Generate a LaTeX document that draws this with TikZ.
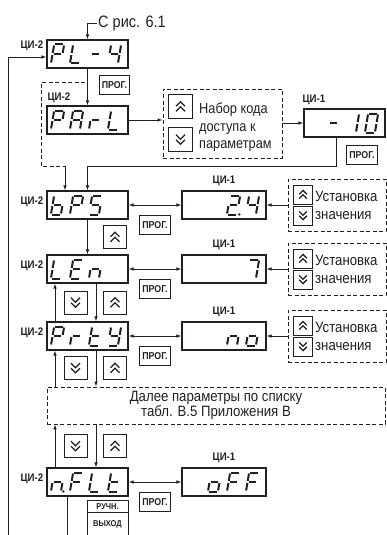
\documentclass[tikz,border=0pt]{standalone}
\usepackage{fontspec}
\setmainfont{Liberation Sans}[FakeStretch=0.88]
\usepackage{xstring}
\usetikzlibrary{arrows.meta,positioning,calc}
\definecolor{ink}{RGB}{35,31,32}
% segments of one display digit
\def\sga{(1.3,-9.5) -- (8.7,-9.5)}
\def\sgb{(10,-8.5) -- (10,-1)}
\def\sgc{(10,1) -- (10,8.5)}
\def\sgd{(1.3,9.5) -- (8.7,9.5)}
\def\sge{(0,1) -- (0,8.5)}
\def\sgf{(0,-8.5) -- (0,-1)}
\def\sgg{(1.3,0) -- (8.7,0)}
\tikzset{
  >={Latex[length=5pt,width=3.6pt]},
  disp/.style={draw=ink,line width=1.1pt,minimum width=#1,minimum height=28pt,inner sep=0pt},
  disp/.default=81pt,
  lbl/.style={font=\fontsize{11}{12}\selectfont\bfseries,text=ink,inner sep=1pt},
  prog/.style={draw=ink,line width=0.9pt,font=\fontsize{10}{11}\selectfont\bfseries,text=ink,
    inner sep=2.5pt,minimum height=19pt},
  btn/.style={draw=ink,line width=0.9pt,minimum size=#1,inner sep=0pt},
  btn/.default=23pt,
  dbox/.style={draw=ink,line width=0.9pt,dash pattern=on 4pt off 2.5pt},
  txt/.style={font=\fontsize{15}{15}\selectfont,text=ink,align=left,inner sep=0pt},
  link/.style={draw=ink,line width=0.9pt},
  seg/.style={draw=ink,line width=2pt},
  % display digits and key pictograms
  pics/glyph/.style={code={
    \begin{scope}[xslant=0.17]
    \foreach \s in {a,b,c,d,e,f,g}{\IfSubStr{#1}{\s}{\draw[seg] \csname sg\s\endcsname;}{}}
    \IfSubStr{#1}{p}{\fill[ink] (12.4,9.5) circle (1.3pt);}{}
    \end{scope}
  }},
  pics/upkeys/.style={code={
    \draw[ink,line width=1.3pt] (-4.5,-0.3) -- (0,-4.8) -- (4.5,-0.3) (-4.5,4.8) -- (0,0.3) -- (4.5,4.8);
  }},
  pics/downkeys/.style={code={
    \draw[ink,line width=1.3pt] (-4.5,-4.8) -- (0,-0.3) -- (4.5,-4.8) (-4.5,0.3) -- (0,4.8) -- (4.5,0.3);
  }},
}
\newcommand{\showdisp}[2]{\foreach \i/\g in {#2} \pic at ($(#1.east)+({19*\i-95},0)$) {glyph=\g};}

\begin{document}
\begin{tikzpicture}[x=1pt,y=-1pt]
  \useasboundingbox (0,0) rectangle (387,535);
  \node[txt,font=\fontsize{16.5}{18}\selectfont,anchor=west,inner sep=1pt] (src) at (97,23) {С рис. 6.1};
  % parameter displays
  \foreach \n/\y in {pl/54,parl/120,bps/205,len/269,prty/336,nflt/482}
    \node[disp] (\n) at (87.5,\y) {};
  \foreach \n in {bps,len,prty,nflt}
    \node[lbl,anchor=east] (l\n) at ([shift={(-2,-3)}]\n.west) {ЦИ-2};
  \node[lbl,anchor=east] (lpl) at ([shift={(-2,-8)}]pl.west) {ЦИ-2};
  \node[lbl,anchor=south west] (lparl) at ([shift={(0,-2)}]parl.north west) {ЦИ-2};
  \showdisp{pl}{1/abefg,2/def,3/g,4/bcfg}
  \showdisp{parl}{1/abefg,2/abcefg,3/eg,4/def}
  \showdisp{bps}{1/cdefg,2/abefg,3/acdfg}
  \showdisp{len}{1/def,2/adefg,3/ceg}
  \showdisp{prty}{1/abefg,2/eg,3/defg,4/bcdfg}
  \showdisp{nflt}{1/cegp,2/aefg,3/def,4/defg}

  \coordinate (fb) at (8,535);
  \draw[link,->] (fb) |- ([shift={(0,3)}]pl.west);
  \draw[link,->] (src.west) -| (pl.north);
  \draw[link,->] (pl.south) -- (parl.north);
  \node[prog,anchor=east] (p0) at (130,85) {ПРОГ.};

  % access code
  \node[dbox,minimum width=119pt,minimum height=69pt] (code) at (222.5,123.5) {};
  \node[btn=24pt] (cu) at (180.5,106.5) {}; \pic at (cu) {upkeys};
  \node[btn=24pt] (cd) at (180.5,139.5) {}; \pic at (cd) {downkeys};
  \node[txt,font=\fontsize{14.5}{17.5}\selectfont,anchor=west] (ctext) at (199,127.5) {Набор кода\\доступа к\\параметрам};
  \draw[link,->] (parl.east) -- (parl.east -| code.west);
  \node[disp] (m10) at (344.5,123) {};
  \showdisp{m10}{2/g,3/bc,4/abcdef}
  \node[lbl,anchor=south west] (lm10) at ([shift={(-2,-3)}]m10.north west) {ЦИ-1};
  \draw[link,->] (code.east |- m10.west) -- (m10.west);
  \node[prog] (pm10) at (362,155) {ПРОГ.};
  \coordinate (join) at (87.5,166);
  \draw[link] ([xshift=-8pt]m10.south) |- (join);
  \draw[link,->] (join) -- (bps.north);
  \coordinate (skip) at (85,82);
  \coordinate (byp) at (65,166);
  \draw[dbox] (skip) -| (41,166) -- (byp);
  \draw[link,->] (byp) -- (byp |- bps.north);

  % values
  \foreach \r/\n/\y in {bps/v1/205,len/v2/269,prty/v3/336,nflt/v4/482} {
    \node[disp=84pt] (\n) at (224,\y) {};
    \node[lbl,anchor=south] (l\n) at ([shift={(0,-4)}]\n.north) {ЦИ-1};
    \draw[link,<->] (\r.east) -- (\n.west);
    \node[prog] (p\n) at (155,\y+20) {ПРОГ.};
  }
  \showdisp{v1}{3/abdegp,4/bcfg}
  \showdisp{v2}{4/abc}
  \showdisp{v3}{3/ceg,4/cdeg}
  \showdisp{v4}{2/cdeg,3/aefg,4/aefg}
  \foreach \n/\y in {v1/205,v2/269,v3/336} {
    \node[dbox,minimum width=98pt,minimum height=52pt] (s\n) at (337,\y) {};
    \node[btn=19pt] (su\n) at (303,\y-10.5) {}; \pic[scale=0.85] at (su\n) {upkeys};
    \node[btn=19pt] (sd\n) at (303,\y+10.5) {}; \pic[scale=0.85] at (sd\n) {downkeys};
    \node[txt,font=\fontsize{15}{18}\selectfont,anchor=west] (st\n) at (315,\y) {Установка\\значения};
    \draw[link,->] (s\n.west) -- (\n.east);
  }

  % list navigation
  \node[dbox,txt,align=center,minimum width=338pt,minimum height=37pt] (more) at (216,405.5)
    {Далее параметры по списку\\табл. В.5 Приложения В};
  \draw[link,->] (bps.south) -- (len.north);
  \node[btn] (k0) at (115,237) {}; \pic at (k0) {upkeys};
  \coordinate (upx) at (55,0);
  \coordinate (dnx) at (96,0);
  \foreach \a/\b/\y [count=\k] in {len/prty/302.5,prty/more/368,more/nflt/446} {
    \draw[link,->] (\b.north -| upx) -- (\a.south -| upx);
    \draw[link,->] (\a.south -| dnx) -- (\b.north -| dnx);
    \node[btn] (kd\k) at (75.5,\y) {}; \pic at (kd\k) {downkeys};
    \node[btn] (ku\k) at (115,\y) {}; \pic at (ku\k) {upkeys};
  }

  % manual output
  \coordinate (out) at (67,535);
  \draw[link] (nflt.south -| out) -- (out);
  \node[draw=ink,line width=0.9pt,minimum width=41pt,minimum height=35.5pt] (man) at (107.5,517.75) {};
  \draw[link] ([shift={(0,13)}]man.north west) -- ([shift={(0,13)}]man.north east);
  \node[lbl,font=\fontsize{8.5}{9}\selectfont\bfseries] (mant) at ([shift={(0,7)}]man.north) {РУЧН.};
  \node[lbl,font=\fontsize{8.5}{9}\selectfont\bfseries] (manb) at ([shift={(0,25)}]man.north) {ВЫХОД};
\end{tikzpicture}
\end{document}
